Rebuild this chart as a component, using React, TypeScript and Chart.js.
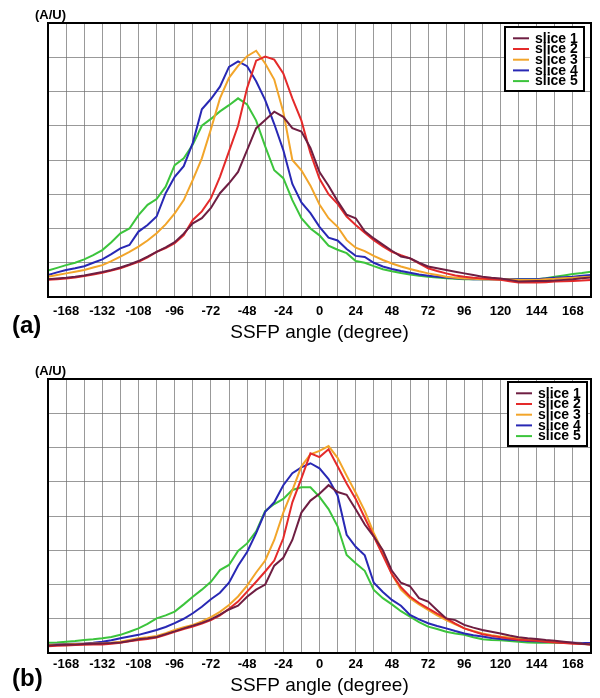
import React, { useEffect, useRef } from "react";
import { Chart, registerables } from "chart.js";

Chart.register(...registerables);

const ANGLES = [
  -180, -174, -168, -162, -156, -150, -144, -138, -132, -126,
  -120, -114, -108, -102, -96, -90, -84, -78, -72, -66,
  -60, -54, -48, -42, -36, -30, -24, -18, -12, -6,
  0, 6, 12, 18, 24, 30, 36, 42, 48, 54,
  60, 66, 72, 78, 84, 90, 96, 102, 108, 114,
  120, 126, 132, 138, 144, 150, 156, 162, 168, 174, 180,
];

const TICK_VALUES = [-168, -144, -120, -96, -72, -48, -24, 0, 24, 48, 72, 96, 120, 144, 168];
const TICK_LABELS = ["-168", "-132", "-108", "-96", "-72", "-48", "-24", "0", "24", "48", "72", "96", "120", "144", "168"];

const SERIES_NAMES = ["slice 1", "slice 2", "slice 3", "slice 4", "slice 5"];
const SERIES_COLORS = ["#6e1e42", "#e42a2a", "#f2a52a", "#2828b4", "#3cc43c"];

// Panel (a)
const A_SLICE1 = [
  0.52, 0.54, 0.56, 0.59, 0.63, 0.68, 0.73, 0.79, 0.86, 0.95,
  1.05, 1.18, 1.32, 1.45, 1.6, 1.85, 2.15, 2.3, 2.6, 3.03,
  3.32, 3.65, 4.29, 4.93, 5.17, 5.41, 5.26, 4.93, 4.83, 4.35,
  3.65, 3.25, 2.8, 2.4, 2.3, 1.92, 1.71, 1.53, 1.35, 1.18,
  1.13, 1.0, 0.89, 0.84, 0.79, 0.74, 0.69, 0.64, 0.59, 0.56,
  0.54, 0.5, 0.45, 0.46, 0.47, 0.47, 0.48, 0.5, 0.52, 0.55, 0.57,
];
const A_SLICE2 = [
  0.5, 0.52, 0.54, 0.57, 0.61, 0.66, 0.71, 0.77, 0.84, 0.93,
  1.03, 1.16, 1.32, 1.43, 1.57, 1.81, 2.25, 2.5, 2.88, 3.51,
  4.25, 5.0, 6.1, 6.9, 7.02, 6.93, 6.53, 5.8, 5.15, 4.2,
  3.45, 3.0, 2.72, 2.35, 2.1, 1.88, 1.66, 1.48, 1.32, 1.22,
  1.13, 0.98, 0.84, 0.76, 0.69, 0.63, 0.59, 0.56, 0.54, 0.52,
  0.5, 0.46, 0.42, 0.42, 0.42, 0.43, 0.45, 0.46, 0.47, 0.48, 0.5,
];
const A_SLICE3 = [
  0.59, 0.64, 0.69, 0.74, 0.79, 0.86, 0.93, 1.05, 1.18, 1.32,
  1.47, 1.65, 1.86, 2.12, 2.44, 2.83, 3.42, 4.05, 4.9, 5.8,
  6.4, 6.75, 7.03, 7.19, 6.82, 6.35, 5.4, 4.0, 3.7, 3.25,
  2.7, 2.3, 2.05, 1.66, 1.44, 1.34, 1.2, 1.08, 0.98, 0.89,
  0.82, 0.75, 0.69, 0.64, 0.59, 0.56, 0.54, 0.53, 0.52, 0.52,
  0.51, 0.51, 0.5, 0.5, 0.5, 0.52, 0.53, 0.55, 0.56, 0.58, 0.59,
];
const A_SLICE4 = [
  0.64, 0.72, 0.79, 0.84, 0.9, 1.0, 1.1, 1.25, 1.42, 1.52,
  1.91, 2.1, 2.35, 3.03, 3.51, 3.82, 4.5, 5.48, 5.78, 6.14,
  6.72, 6.88, 6.74, 6.3, 5.75, 5.05, 4.29, 3.3, 2.76, 2.45,
  2.05, 1.73, 1.65, 1.4, 1.2, 1.17, 1.0, 0.89, 0.82, 0.76,
  0.71, 0.66, 0.62, 0.59, 0.57, 0.55, 0.53, 0.52, 0.52, 0.52,
  0.52, 0.52, 0.52, 0.52, 0.52, 0.54, 0.56, 0.58, 0.59, 0.62, 0.64,
];
const A_SLICE5 = [
  0.77, 0.85, 0.93, 1.0, 1.1, 1.22, 1.37, 1.6, 1.86, 2.0,
  2.39, 2.69, 2.86, 3.22, 3.85, 4.05, 4.45, 5.0, 5.2, 5.42,
  5.6, 5.8, 5.62, 5.15, 4.4, 3.7, 3.47, 2.83, 2.3, 2.0,
  1.8, 1.5, 1.38, 1.28, 1.05, 1.0, 0.9, 0.81, 0.75, 0.7,
  0.66, 0.62, 0.59, 0.57, 0.55, 0.53, 0.52, 0.52, 0.52, 0.52,
  0.52, 0.52, 0.52, 0.52, 0.52, 0.55, 0.59, 0.63, 0.67, 0.7, 0.74,
];

// Panel (b)
const B_SLICE1 = [
  0.22, 0.23, 0.24, 0.25, 0.26, 0.27, 0.28, 0.29, 0.31, 0.35,
  0.4, 0.43, 0.47, 0.55, 0.63, 0.72, 0.8, 0.88, 0.98, 1.12,
  1.27, 1.38, 1.64, 1.85, 2.0, 2.55, 2.78, 3.3, 4.1, 4.45,
  4.65, 4.9, 4.7, 4.62, 4.2, 3.75, 3.4, 3.0, 2.4, 2.05,
  1.95, 1.6, 1.5, 1.25, 1.01, 0.96, 0.82, 0.74, 0.67, 0.62,
  0.57, 0.51, 0.46, 0.43, 0.41, 0.38, 0.36, 0.33, 0.3, 0.27, 0.25,
];
const B_SLICE2 = [
  0.2, 0.21, 0.22, 0.23, 0.24, 0.25, 0.25, 0.27, 0.3, 0.34,
  0.38, 0.41, 0.45, 0.53, 0.62, 0.7, 0.77, 0.86, 0.96, 1.1,
  1.29, 1.5, 1.79, 2.08, 2.38, 2.7, 3.35, 4.4, 5.1, 5.83,
  5.72, 5.95, 5.45, 4.95, 4.5, 3.95, 3.4, 2.85, 2.3, 1.92,
  1.65, 1.46, 1.3, 1.15, 1.01, 0.86, 0.72, 0.63, 0.55, 0.5,
  0.46, 0.42, 0.39, 0.37, 0.36, 0.33, 0.31, 0.29, 0.27, 0.26, 0.25,
];
const B_SLICE3 = [
  0.23, 0.24, 0.25, 0.26, 0.27, 0.28, 0.28, 0.3, 0.33, 0.38,
  0.43, 0.46, 0.5, 0.58, 0.67, 0.75, 0.82, 0.92, 1.05, 1.2,
  1.4, 1.65, 1.97, 2.35, 2.7, 3.3, 4.1, 4.75, 5.45, 5.8,
  5.9, 6.04, 5.7, 5.18, 4.68, 4.15, 3.5, 2.95, 2.3, 1.85,
  1.6, 1.42, 1.26, 1.1, 0.96, 0.84, 0.72, 0.64, 0.57, 0.52,
  0.48, 0.45, 0.42, 0.4, 0.39, 0.36, 0.33, 0.31, 0.29, 0.27, 0.25,
];
const B_SLICE4 = [
  0.23, 0.25, 0.26, 0.27, 0.28, 0.3, 0.33, 0.37, 0.43, 0.48,
  0.53, 0.6, 0.67, 0.76, 0.87, 1.0, 1.16, 1.35, 1.57, 1.76,
  2.05, 2.55, 2.95, 3.5, 4.12, 4.4, 4.9, 5.25, 5.42, 5.54,
  5.39, 5.08, 4.6, 3.45, 3.1, 2.85, 2.05, 1.78, 1.55, 1.38,
  1.11, 0.98, 0.87, 0.79, 0.72, 0.64, 0.57, 0.52, 0.48, 0.44,
  0.41, 0.39, 0.37, 0.35, 0.34, 0.33, 0.32, 0.31, 0.3, 0.29, 0.29,
];
const B_SLICE5 = [
  0.3, 0.31, 0.33, 0.35, 0.38, 0.4, 0.43, 0.47, 0.53, 0.62,
  0.72, 0.85, 1.01, 1.1, 1.21, 1.42, 1.64, 1.85, 2.08, 2.42,
  2.57, 2.98, 3.2, 3.55, 4.15, 4.35, 4.5, 4.76, 4.84, 4.84,
  4.56, 4.2, 3.7, 2.86, 2.62, 2.4, 1.84, 1.6, 1.42, 1.22,
  1.06, 0.9, 0.77, 0.7, 0.62, 0.57, 0.53, 0.46, 0.4, 0.38,
  0.37, 0.35, 0.33, 0.31, 0.3, 0.3, 0.3, 0.29, 0.29, 0.29, 0.29,
];

const X_TITLE = "SSFP angle (degree)";
const Y_UNIT = "(A/U)";

const FONT = '"Liberation Sans", Arial, Helvetica, sans-serif';

type PanelCfg = {
  letter: string;
  series: number[][];
  legendInset: number;
  legendTop: number;
  tickPad: number;
  titlePad: number;
  letterY: number;
};

const PANEL_A: PanelCfg = {
  letter: "(a)",
  series: [A_SLICE1, A_SLICE2, A_SLICE3, A_SLICE4, A_SLICE5],
  legendInset: 7,
  legendTop: 4,
  tickPad: 7,
  titlePad: 0,
  letterY: 326,
};
const PANEL_B: PanelCfg = {
  letter: "(b)",
  series: [B_SLICE1, B_SLICE2, B_SLICE3, B_SLICE4, B_SLICE5],
  legendInset: 4,
  legendTop: 3,
  tickPad: 4,
  titlePad: 3,
  letterY: 323,
};

function makeOverlay(cfg: PanelCfg) {
  return {
    id: "overlay",
    afterDatasetsDraw(chart: any) {
      const { ctx, chartArea: a } = chart;
      ctx.save();
      // frame
      ctx.strokeStyle = "#000";
      ctx.lineWidth = 2;
      ctx.strokeRect(a.left, a.top, a.right - a.left, a.bottom - a.top);
      // legend box
      const boxW = 79;
      const boxH = 64;
      const bx = a.right - cfg.legendInset - boxW;
      const by = a.top + cfg.legendTop;
      ctx.fillStyle = "#fff";
      ctx.fillRect(bx, by, boxW, boxH);
      ctx.strokeStyle = "#000";
      ctx.lineWidth = 2;
      ctx.strokeRect(bx, by, boxW, boxH);
      ctx.font = `bold 14px ${FONT}`;
      ctx.textBaseline = "middle";
      ctx.textAlign = "left";
      chart.data.datasets.forEach((ds: any, i: number) => {
        const y = by + 11.3 + i * 10.7;
        ctx.strokeStyle = ds.borderColor;
        ctx.lineWidth = 2;
        ctx.beginPath();
        ctx.moveTo(bx + 8, y);
        ctx.lineTo(bx + 24, y);
        ctx.stroke();
        ctx.fillStyle = "#000";
        ctx.fillText(ds.label, bx + 30, y + 0.5);
      });
      // unit and panel letter
      ctx.fillStyle = "#000";
      ctx.font = `bold 13px ${FONT}`;
      ctx.textBaseline = "middle";
      ctx.fillText(Y_UNIT, 35, 15);
      ctx.font = `bold 24px ${FONT}`;
      ctx.fillText(cfg.letter, 12, cfg.letterY);
      ctx.restore();
    },
  };
}

function Panel({ cfg, top }: { cfg: PanelCfg; top: number }) {
  const ref = useRef<HTMLCanvasElement | null>(null);
  useEffect(() => {
    if (!ref.current) return;
    const datasets = cfg.series.map((vals, i) => ({
      label: SERIES_NAMES[i],
      data: ANGLES.map((x, j) => ({ x, y: vals[j] })),
      borderColor: SERIES_COLORS[i],
      backgroundColor: SERIES_COLORS[i],
      borderWidth: 2,
      pointRadius: 0,
      tension: 0,
      fill: false,
    }));
    const chart = new Chart(ref.current, {
      type: "line",
      data: { datasets },
      options: {
        animation: false,
        responsive: false,
        devicePixelRatio: 1,
        layout: { padding: { top: 23, left: 48, right: 9, bottom: 0 } },
        plugins: { legend: { display: false }, tooltip: { enabled: false } },
        scales: {
          x: {
            type: "linear",
            min: -180,
            max: 180,
            afterFit: (s: any) => {
              s.height = 45;
            },
            border: { display: false },
            grid: { color: "rgba(110,110,110,0.7)", lineWidth: 1, drawTicks: false },
            ticks: {
              stepSize: 12,
              autoSkip: false,
              maxRotation: 0,
              minRotation: 0,
              padding: cfg.tickPad,
              color: "#000",
              font: { family: FONT, size: 13, weight: "bold" },
              callback: (v: any) => {
                const idx = TICK_VALUES.indexOf(Number(v));
                return idx >= 0 ? TICK_LABELS[idx] : "";
              },
            },
            title: {
              display: true,
              text: X_TITLE,
              color: "#000",
              font: { family: FONT, size: 19, lineHeight: 1 },
              padding: { top: 0, bottom: cfg.titlePad },
            },
          },
          y: {
            min: 0,
            max: 8,
            afterFit: (s: any) => {
              s.width = 0;
            },
            border: { display: false },
            grid: { color: "rgba(110,110,110,0.7)", lineWidth: 1, drawTicks: false },
            ticks: { stepSize: 1, display: false },
          },
        },
      },
      plugins: [makeOverlay(cfg)],
    } as any);
    return () => chart.destroy();
  }, [cfg]);
  return (
    <canvas
      ref={ref}
      width={600}
      height={342}
      style={{ position: "absolute", left: 0, top, width: 600, height: 342, display: "block" }}
    />
  );
}

export default function App() {
  return (
    <div style={{ position: "absolute", left: 0, top: 0, width: 600, height: 698, background: "#fff", overflow: "hidden" }}>
      <Panel cfg={PANEL_A} top={0} />
      <Panel cfg={PANEL_B} top={356} />
    </div>
  );
}
